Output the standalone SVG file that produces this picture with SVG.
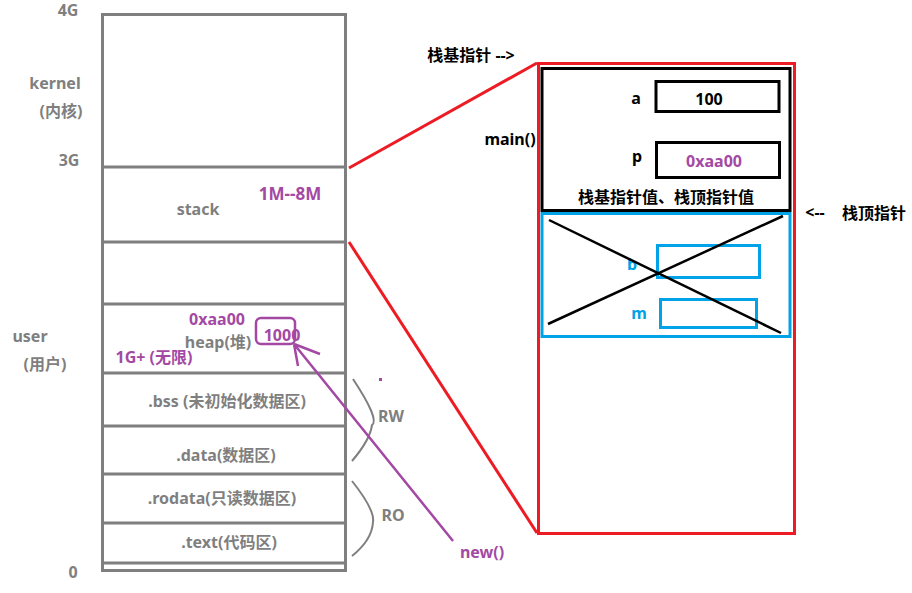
<svg xmlns="http://www.w3.org/2000/svg" width="912" height="593" viewBox="0 0 912 593">
<style>
text{font-family:"Noto Sans","Noto Sans CJK SC",sans-serif;font-weight:bold;font-size:16px}
.g{fill:#7f7f7f}
.pu{fill:#a349a4}
.k{fill:#000}
.bl{fill:#00a2e8}
.seg{fill:none;stroke:#7f7f7f;stroke-width:3}
.red{fill:none;stroke:#ed1c24;stroke-width:3}
</style>
<rect width="912" height="593" fill="#fff"/>
<g id="memory">
<rect class="seg" x="102.5" y="14.5" width="243" height="556"/>
<line class="seg" x1="102" y1="167" x2="346" y2="167"/>
<line class="seg" x1="102" y1="242" x2="346" y2="242"/>
<line class="seg" x1="102" y1="304" x2="346" y2="304"/>
<line class="seg" x1="102" y1="373" x2="346" y2="373"/>
<line class="seg" x1="102" y1="426" x2="346" y2="426"/>
<line class="seg" x1="102" y1="474" x2="346" y2="474"/>
<line class="seg" x1="102" y1="523" x2="346" y2="523"/>
<line class="seg" x1="102" y1="563" x2="346" y2="563"/>
</g>
<g id="labels-left">
<text class="g" x="68" y="16" text-anchor="middle">4G</text>
<text class="g" x="55" y="89" text-anchor="middle">kernel</text>
<text class="g" x="61" y="117" text-anchor="middle">(内核)</text>
<text class="g" x="69" y="166" text-anchor="middle">3G</text>
<text class="g" x="30" y="342" text-anchor="middle">user</text>
<text class="g" x="45" y="370" text-anchor="middle">(用户)</text>
<text class="g" x="73" y="578" text-anchor="middle">0</text>
</g>
<g id="stack">
<text class="g" x="198" y="215" text-anchor="middle">stack</text>
<text class="pu" x="290" y="200" text-anchor="middle" style="font-size:17px">1M--8M</text>
</g>
<g id="heap">
<text class="pu" x="217" y="325" text-anchor="middle">0xaa00</text>
<text class="g" x="218" y="348" text-anchor="middle">heap(堆)</text>
<text class="pu" x="154" y="363" text-anchor="middle">1G+ (无限)</text>
<rect x="256" y="318" width="39" height="26" rx="5" fill="none" stroke="#a349a4" stroke-width="2.5"/>
<text class="pu" x="282" y="341" text-anchor="middle">1000</text>
</g>
<g id="bss"><text class="g" x="227" y="407" text-anchor="middle">.bss (未初始化数据区)</text></g>
<g id="data"><text class="g" x="226" y="461" text-anchor="middle">.data(数据区)</text></g>
<g id="rodata"><text class="g" x="222" y="504" text-anchor="middle">.rodata(只读数据区)</text></g>
<g id="text"><text class="g" x="229" y="548" text-anchor="middle">.text(代码区)</text></g>
<g id="braces">
<path d="M353 379 Q380 420 372 425 Q370 440 352 461" fill="none" stroke="#7f7f7f" stroke-width="2"/>
<path d="M352 481 Q375 510 373 522 Q372 540 352 556" fill="none" stroke="#7f7f7f" stroke-width="2"/>
<text class="g" x="391" y="422" text-anchor="middle">RW</text>
<text class="g" x="393" y="521" text-anchor="middle">RO</text>
<rect x="379" y="378" width="3" height="3" fill="#a349a4"/>
</g>
<g id="connectors">
<line class="red" x1="349" y1="168" x2="537" y2="63"/>
<line class="red" x1="349" y1="242" x2="537" y2="533"/>
<path d="M453 541 L294 344 M294 344 L320 354 M294 344 L298 366" fill="none" stroke="#a349a4" stroke-width="2.5"/>
<text class="pu" x="482" y="558" text-anchor="middle">new()</text>
</g>
<g id="frame">
<rect class="red" x="538.5" y="63.5" width="256" height="470"/>
<text class="k" x="471" y="61" text-anchor="middle">栈基指针 --&gt;</text>
<text class="k" x="815" y="218" text-anchor="middle">&lt;--</text>
<text class="k" x="874" y="219" text-anchor="middle">栈顶指针</text>
</g>
<g id="main">
<rect x="542" y="68.5" width="248" height="142" fill="none" stroke="#000" stroke-width="3"/>
<text class="k" x="510" y="145" text-anchor="middle">main()</text>
<text class="k" x="636" y="104" text-anchor="middle">a</text>
<rect x="656" y="81.5" width="123" height="30" fill="none" stroke="#000" stroke-width="3"/>
<text class="k" x="709" y="105" text-anchor="middle">100</text>
<text class="k" x="637" y="162" text-anchor="middle">p</text>
<rect x="656.5" y="142.5" width="123" height="35" fill="none" stroke="#000" stroke-width="3"/>
<text class="pu" x="714" y="167" text-anchor="middle">0xaa00</text>
<text class="k" x="666" y="203" text-anchor="middle">栈基指针值、栈顶指针值</text>
</g>
<g id="popped">
<rect x="542" y="213.5" width="248" height="123" fill="none" stroke="#00a2e8" stroke-width="3"/>
<text class="bl" x="632" y="270" text-anchor="middle">b</text>
<rect x="657.5" y="245.5" width="102" height="32" fill="none" stroke="#00a2e8" stroke-width="3"/>
<text class="bl" x="639" y="319" text-anchor="middle">m</text>
<rect x="660.5" y="299.5" width="96" height="28" fill="none" stroke="#00a2e8" stroke-width="3"/>
<line x1="549" y1="220" x2="781" y2="333" stroke="#000" stroke-width="2.5"/>
<line x1="548" y1="324" x2="783" y2="216" stroke="#000" stroke-width="2.5"/>
</g>
</svg>
